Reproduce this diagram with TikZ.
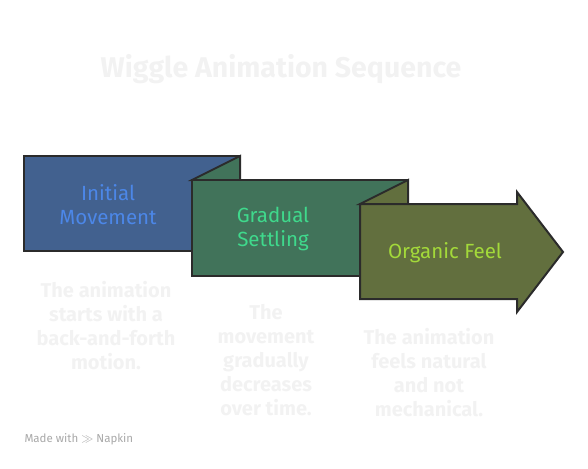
\documentclass[tikz,border=0pt]{standalone}
\usepackage{fontspec}
\setmainfont{Fira Sans}
\definecolor{bluefill}{HTML}{42618F}
\definecolor{bluetext}{HTML}{4C87E8}
\definecolor{greenfill}{HTML}{41735A}
\definecolor{greentext}{HTML}{3FD98C}
\definecolor{olivefill}{HTML}{626F3E}
\definecolor{olivetext}{HTML}{A3D93A}
\definecolor{stroke}{HTML}{2B2B2B}
\definecolor{faint}{HTML}{F2F2F2}
\definecolor{brand}{HTML}{A8A8A8}
\tikzset{
  shapeline/.style={draw=stroke, line width=2pt, line join=miter},
  boxtext/.style={font=\fontsize{20.5}{24}\selectfont, align=center},
  desc/.style={font=\fontsize{20}{24}\selectfont\bfseries, text=faint, align=center},
}
\begin{document}
\begin{tikzpicture}[x=1pt,y=-1pt]
\useasboundingbox (0,0) rectangle (588,468);
% box 1
\filldraw[shapeline, fill=bluefill] (24,156) rectangle (240,251);
% flap of box 2 over box 1
\filldraw[shapeline, fill=greenfill] (192,180) -- (240,156) -- (240,180) -- cycle;
% box 2
\filldraw[shapeline, fill=greenfill] (192,180) rectangle (408,276);
% flap of box 3 over box 2
\filldraw[shapeline, fill=olivefill] (360,204) -- (408,180) -- (408,204) -- cycle;
% box 3 arrow
\filldraw[shapeline, fill=olivefill] (360,204) -- (517,204) -- (517,192) -- (563,252) -- (517,312) -- (517,299) -- (360,299) -- cycle;

\node[boxtext, text=bluetext] (t1) at (108,205) {Initial\\Movement};
\node[boxtext, text=greentext] (t2) at (273,229) {Gradual\\Settling};
\node[boxtext, text=olivetext] (t3) at (445,253) {Organic Feel};

\node[font=\fontsize{28.5}{32}\selectfont\bfseries, text=faint] (title) at (281,69) {Wiggle Animation Sequence};

\node[desc, anchor=north] (d1) at (106,278) {The animation\\starts with a\\back-and-forth\\motion.};
\node[desc, anchor=north] (d2) at (266,301) {The\\movement\\gradually\\decreases\\over time.};
\node[desc, anchor=north] (d3) at (429,325) {The animation\\feels natural\\and not\\mechanical.};

\node[font=\fontsize{11.5}{13}\selectfont, text=brand, anchor=west] (brand) at (21,439) {Made with $\gg$ Napkin};
\end{tikzpicture}
\end{document}
